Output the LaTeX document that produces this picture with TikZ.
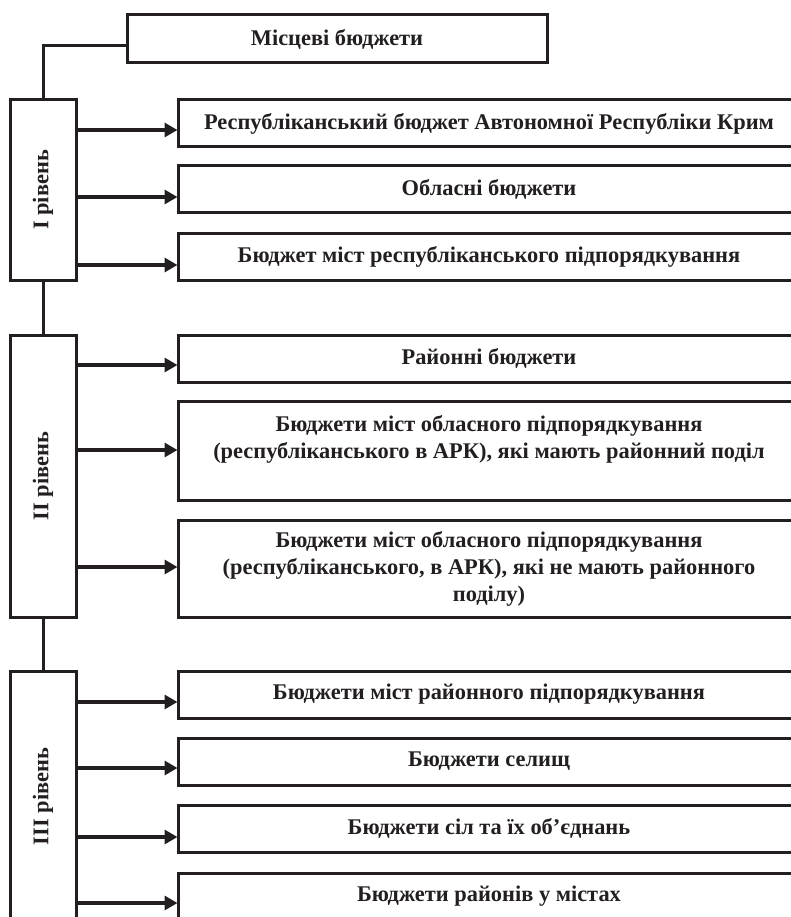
\documentclass[tikz,border=0pt]{standalone}
\usepackage{fontspec}
\setmainfont{Liberation Serif}
\usetikzlibrary{arrows.meta}
\definecolor{ink}{RGB}{35,31,32}
\begin{document}
\begin{tikzpicture}[x=1pt,y=-1pt,
  every node/.style={font=\fontsize{22.4}{27}\selectfont\bfseries, text=ink},
  box/.style={draw=ink, line width=3pt, inner sep=0pt, align=center, anchor=north west},
  rbox/.style={box, minimum width=622pt, minimum height=47pt},
  lvl/.style={box, minimum width=66pt},
  conn/.style={draw=ink, line width=3pt},
  arr/.style={draw=ink, line width=4.3pt, -{Triangle[length=13pt,width=14pt]}, shorten >=-1pt}]
\useasboundingbox (0,0) rectangle (791,917);
\clip (0,0) rectangle (791,917);

\node[box, minimum width=420pt, minimum height=48pt] (top) at (125.5,13.5) {Місцеві бюджети};

\node[lvl, minimum height=180pt] (L1) at (8.5,98.5) {};
\node[rotate=90] at (L1.center) {I рівень};
\node[lvl, minimum height=282pt] (L2) at (8.5,333.5) {};
\node[rotate=90] at (L2.center) {II рівень};
\node[lvl, minimum height=251pt] (L3) at (8.5,669.5) {};
\node[rotate=90] at (L3.center) {III рівень};

\node[rbox] (r1) at (176.5,98.5) {Республіканський бюджет Автономної Республіки Крим};
\node[rbox] (r2) at (176.5,164.5) {Обласні бюджети};
\node[rbox] (r3) at (176.5,231.5) {Бюджет міст республіканського підпорядкування};
\node[rbox] (r4) at (176.5,333.5) {Районні бюджети};
\node[rbox, minimum height=99pt] (r5) at (176.5,399.5) {Бюджети міст обласного підпорядкування\\(республіканського в АРК), які мають районний поділ\\\mbox{}};
\node[rbox, minimum height=97pt] (r6) at (176.5,518.5) {Бюджети міст обласного підпорядкування\\(республіканського, в АРК), які не мають районного\\поділу)};
\node[rbox] (r7) at (176.5,669.5) {Бюджети міст районного підпорядкування};
\node[rbox] (r8) at (176.5,736.5) {Бюджети селищ};
\node[rbox] (r9) at (176.5,803.5) {Бюджети сіл та їх об’єднань};
\node[rbox] (r10) at (176.5,871.5) {Бюджети районів у містах};

\draw[conn] (top.west |- 0,46) -| (L1.north);
\draw[conn] (L1.south) -- (L2.north);
\draw[conn] (L2.south) -- (L3.north);

\draw[arr] (L1.east |- 0,130) -- (r1.west |- 0,130);
\draw[arr] (L1.east |- 0,197) -- (r2.west |- 0,197);
\draw[arr] (L1.east |- 0,265) -- (r3.west |- 0,265);
\draw[arr] (L2.east |- 0,365) -- (r4.west |- 0,365);
\draw[arr] (L2.east |- 0,450) -- (r5.west |- 0,450);
\draw[arr] (L2.east |- 0,567) -- (r6.west |- 0,567);
\draw[arr] (L3.east |- 0,702) -- (r7.west |- 0,702);
\draw[arr] (L3.east |- 0,768) -- (r8.west |- 0,768);
\draw[arr] (L3.east |- 0,837) -- (r9.west |- 0,837);
\draw[arr] (L3.east |- 0,903) -- (r10.west |- 0,903);
\end{tikzpicture}
\end{document}
